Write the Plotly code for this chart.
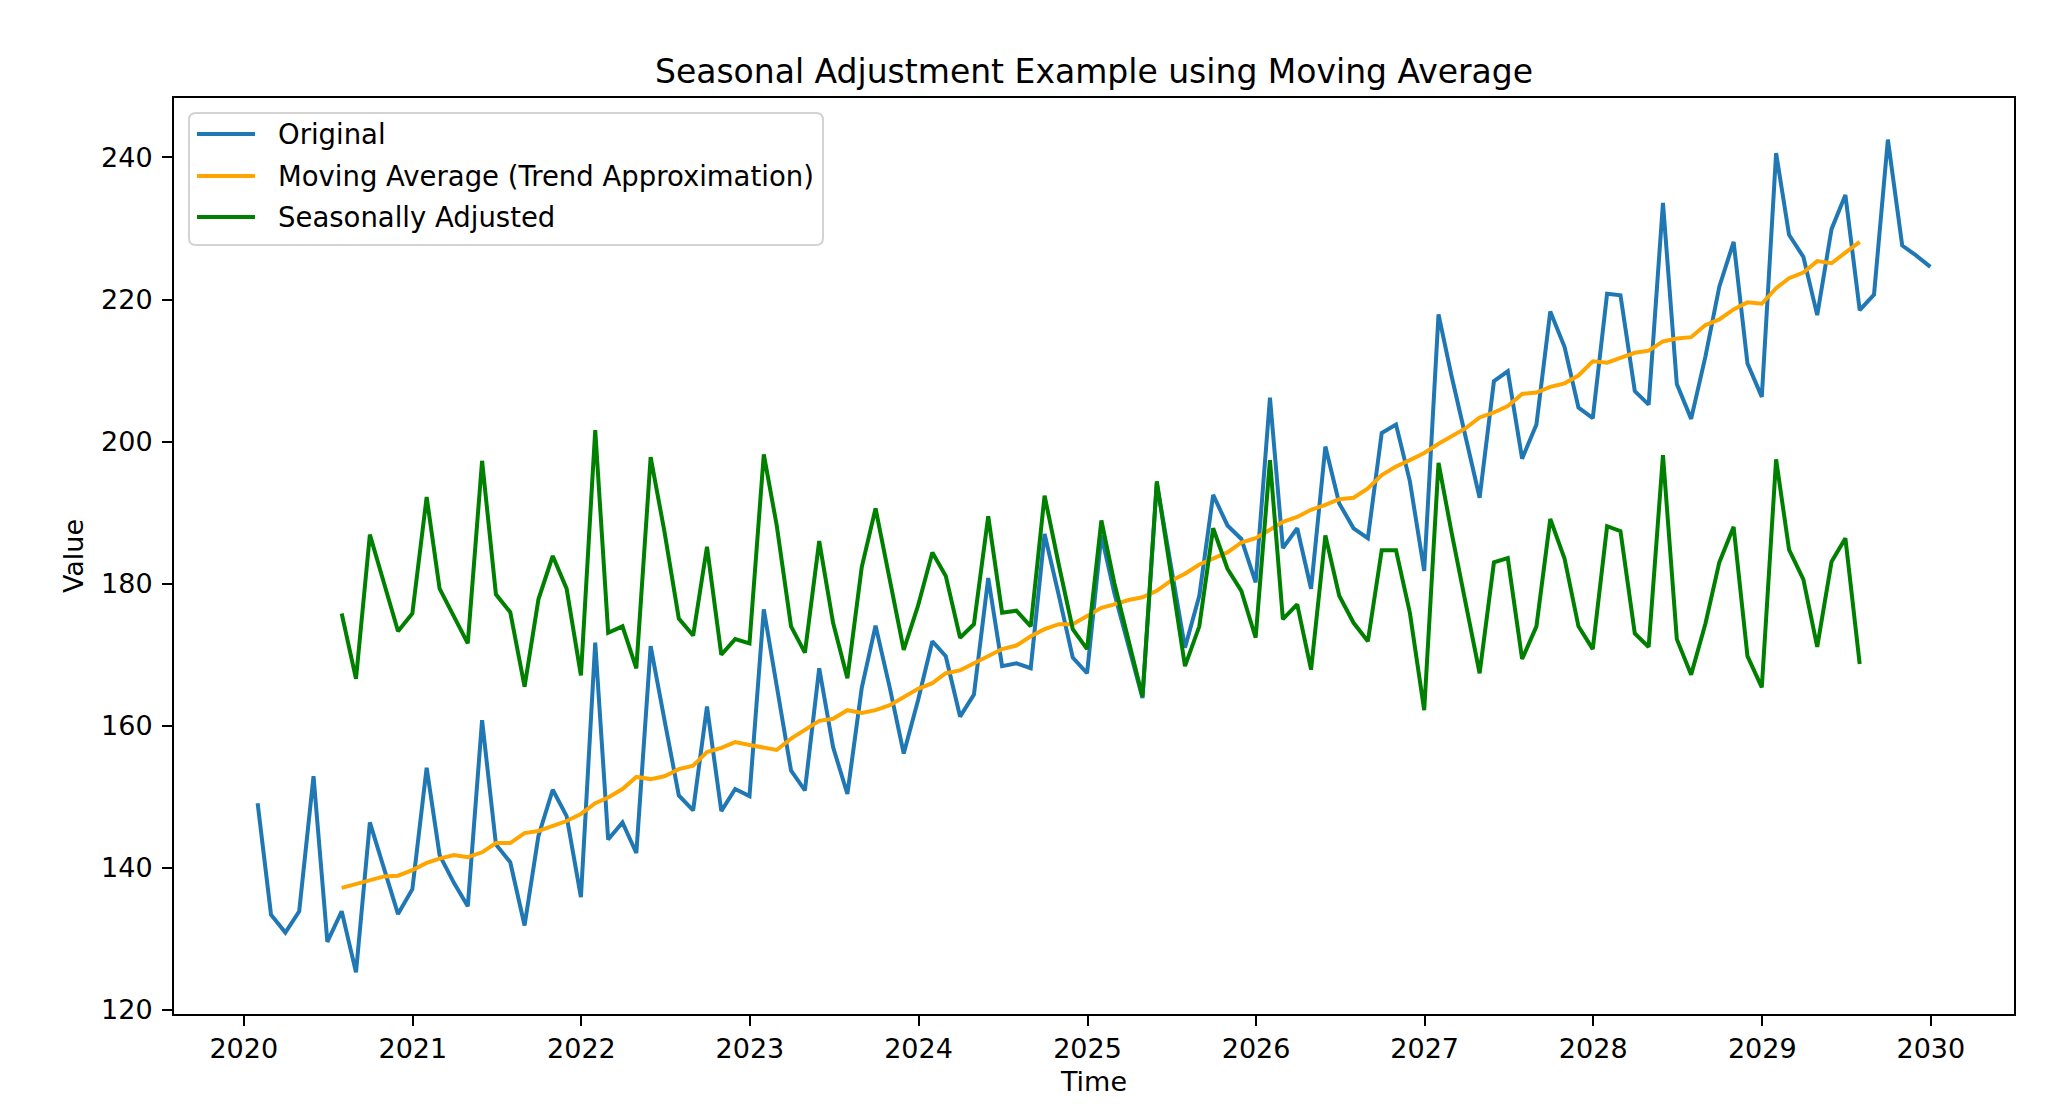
import pandas as pd
import plotly.graph_objects as go

# ---- data ----
start_date = "2020-01-31"          # first month-end of the series
n_months = 120
ma_offset = 6                      # first month that has a centred 12-month average

original = [
    149.1, 133.4, 130.9, 133.9, 152.9, 129.6, 133.9, 125.3, 146.4, 140.0, 133.5, 137.0,   # 2020
    154.1, 141.8, 137.9, 134.6, 160.8, 143.3, 140.8, 131.9, 144.5, 151.0, 147.3, 135.9,   # 2021
    171.7, 144.0, 146.4, 142.1, 171.2, 160.8, 150.2, 148.1, 162.7, 148.0, 151.1, 150.1,   # 2022
    176.4, 165.6, 153.7, 150.9, 168.1, 157.0, 150.4, 165.3, 174.1, 165.3, 156.1, 163.6,   # 2023
    171.9, 169.8, 161.3, 164.4, 180.8, 168.4, 168.8, 168.1, 187.0, 178.3, 169.6, 167.4,   # 2024
    186.8, 178.7, 171.1, 163.9, 194.1, 182.6, 171.0, 178.3, 192.5, 188.2, 186.3, 180.2,   # 2025
    206.2, 185.0, 187.8, 179.3, 199.3, 191.3, 187.8, 186.4, 201.2, 202.4, 194.4, 181.8,   # 2026
    217.9, 209.3, 200.8, 192.1, 208.5, 209.9, 197.6, 202.4, 218.3, 213.3, 204.8, 203.3,   # 2027
    220.8, 220.6, 207.1, 205.2, 233.6, 208.1, 203.2, 212.0, 221.8, 228.1, 211.0, 206.3,   # 2028
    240.6, 229.1, 226.0, 217.8, 229.9, 234.7, 218.5, 220.7, 242.5, 227.6, 226.2, 224.6,   # 2029
]

moving_average = [
    137.2, 137.7, 138.3, 138.8, 138.9, 139.7,                                             # 2020 Jul-Dec
    140.7, 141.3, 141.8, 141.5, 142.2, 143.5, 143.5, 144.9, 145.2, 145.9, 146.6, 147.6,   # 2021
    149.1, 149.9, 151.1, 152.8, 152.5, 152.9, 153.9, 154.4, 156.3, 156.9, 157.7, 157.3,   # 2022
    156.9, 156.6, 158.2, 159.4, 160.7, 161.0, 162.2, 161.8, 162.2, 162.9, 164.1, 165.2,   # 2023
    166.0, 167.4, 167.8, 168.8, 169.9, 170.8, 171.3, 172.6, 173.6, 174.3, 174.3, 175.4,   # 2024
    176.6, 177.1, 177.7, 178.1, 179.0, 180.4, 181.4, 182.7, 183.5, 184.4, 185.8, 186.4,   # 2025
    187.6, 188.7, 189.4, 190.4, 191.1, 191.9, 192.1, 193.4, 195.3, 196.5, 197.4, 198.4,   # 2026
    199.7, 200.8, 201.9, 203.4, 204.1, 205.0, 206.7, 206.9, 207.7, 208.2, 209.3, 211.3,   # 2027
    211.1, 211.8, 212.5, 212.8, 214.1, 214.5, 214.7, 216.4, 217.2, 218.6, 219.6, 219.4,   # 2028
    221.6, 223.0, 223.8, 225.4, 225.1, 226.6, 228.1,                                      # 2029 Jan-Jul
]

seasonally_adjusted = [
    175.8, 166.6, 186.9, 180.2, 173.3, 175.8,                                             # 2020 Jul-Dec
    192.2, 179.3, 175.4, 171.6, 197.3, 178.5, 176.0, 165.5, 177.8, 183.9, 179.3, 167.1,   # 2021
    201.6, 173.1, 174.0, 168.1, 197.8, 187.3, 175.1, 172.7, 185.2, 170.0, 172.2, 171.6,   # 2022
    198.2, 188.2, 174.0, 170.3, 186.0, 174.5, 166.7, 182.3, 190.6, 180.7, 170.7, 176.9,   # 2023
    184.4, 181.1, 172.4, 174.3, 189.5, 175.9, 176.2, 174.0, 192.4, 182.6, 173.6, 170.8,   # 2024
    188.9, 180.1, 171.9, 164.1, 194.4, 181.4, 168.4, 174.0, 187.8, 182.1, 179.0, 172.4,   # 2025
    197.4, 175.0, 177.1, 167.9, 186.8, 178.3, 174.5, 171.9, 184.7, 184.7, 175.9, 162.2,   # 2026
    197.0, 187.3, 177.5, 167.4, 183.0, 183.6, 169.4, 174.0, 189.1, 183.5, 174.0, 170.8,   # 2027
    188.1, 187.4, 173.0, 171.1, 198.1, 172.2, 167.2, 174.4, 183.0, 188.0, 169.8, 165.4,   # 2028
    197.5, 184.8, 180.6, 171.1, 183.1, 186.4, 168.7,                                      # 2029 Jan-Jul
]

x_tick_labels = ["2020", "2021", "2022", "2023", "2024", "2025",
                 "2026", "2027", "2028", "2029", "2030"]
y_tick_values = [120, 140, 160, 180, 200, 220, 240]

series_names = ["Original", "Moving Average (Trend Approximation)", "Seasonally Adjusted"]
series_colors = ["#1f77b4", "#FFA500", "#008000"]

# ---- derived x values ----
first = pd.Timestamp(start_date)
dates = [first + pd.offsets.MonthEnd(i) for i in range(n_months)]
ma_dates = dates[ma_offset:ma_offset + len(moving_average)]
x_tick_vals = [pd.Timestamp(f"{y}-01-01") for y in x_tick_labels]

# axis limits like matplotlib's 5% auto margins
span = dates[-1] - dates[0]
x_range = [dates[0] - span * 0.05, dates[-1] + span * 0.05]
all_y = original + moving_average + seasonally_adjusted
y_span = max(all_y) - min(all_y)
y_range = [min(all_y) - 0.05 * y_span, max(all_y) + 0.05 * y_span]

FONT = "DejaVu Sans"
LINE_W = 4

fig = go.Figure()
for name, xs, ys, col in zip(series_names,
                             [dates, ma_dates, ma_dates],
                             [original, moving_average, seasonally_adjusted],
                             series_colors):
    fig.add_trace(go.Scatter(x=xs, y=ys, mode="lines", name=name, showlegend=False,
                             line=dict(color=col, width=LINE_W)))

W, H = 2072, 1116
ml, mr, mt, mb = 166, 66, 90, 110
PW, PH = W - ml - mr, H - mt - mb


def px(xp):  # pixel -> paper x
    return (xp - ml) / PW


def py(yp):  # pixel -> paper y
    return 1 - (yp - mt) / PH


# ---- legend box drawn like matplotlib's (rounded frame, long line samples) ----
bx0, by0, bx1, by1 = ml + 15, mt + 15, ml + 15 + 634, mt + 15 + 132
r = 7
rx, ry = r / PW, r / PH
X0, X1, Y0, Y1 = px(bx0), px(bx1), py(by1), py(by0)
box_path = (f"M {X0 + rx},{Y0} L {X1 - rx},{Y0} Q {X1},{Y0} {X1},{Y0 + ry} "
            f"L {X1},{Y1 - ry} Q {X1},{Y1} {X1 - rx},{Y1} "
            f"L {X0 + rx},{Y1} Q {X0},{Y1} {X0},{Y1 - ry} "
            f"L {X0},{Y0 + ry} Q {X0},{Y0} {X0 + rx},{Y0} Z")
shapes = [dict(type="path", path=box_path, xref="paper", yref="paper",
               fillcolor="rgba(255,255,255,0.8)", line=dict(color="#d3d3d3", width=2),
               layer="above")]
annotations = []
entry_y = [by0 + 21, by0 + 63, by0 + 104]
for name, col, ey in zip(series_names, series_colors, entry_y):
    shapes.append(dict(type="line", xref="paper", yref="paper",
                       x0=px(bx0 + 8), x1=px(bx0 + 66), y0=py(ey), y1=py(ey),
                       line=dict(color=col, width=LINE_W), layer="above"))
    annotations.append(dict(text=name, xref="paper", yref="paper",
                            x=px(bx0 + 87), y=py(ey), xanchor="left", yanchor="middle",
                            showarrow=False,
                            font=dict(family=FONT, size=27.5, color="black")))

fig.update_layout(
    width=W, height=H,
    margin=dict(l=ml, r=mr, t=mt, b=mb, autoexpand=False),
    paper_bgcolor="white", plot_bgcolor="white",
    font=dict(family=FONT, size=27, color="black"),
    title=dict(text="Seasonal Adjustment Example using Moving Average",
               x=0.5, xref="paper", xanchor="center",
               y=1 - 63 / H, yref="container", yanchor="middle",
               font=dict(family=FONT, size=33, color="black")),
    showlegend=False,
    shapes=shapes,
    annotations=annotations,
    xaxis=dict(range=x_range, tickmode="array", tickvals=x_tick_vals, ticktext=x_tick_labels,
               showgrid=False, zeroline=False,
               showline=True, mirror=True, linecolor="black", linewidth=2,
               ticks="outside", ticklen=10, tickwidth=2, tickcolor="black",
               tickfont=dict(family=FONT, size=27, color="black"),
               ticklabelstandoff=0,
               title=dict(text="Time", font=dict(family=FONT, size=27, color="black"),
                          standoff=9)),
    yaxis=dict(range=y_range, tickmode="array", tickvals=y_tick_values,
               ticktext=[str(v) for v in y_tick_values],
               showgrid=False, zeroline=False,
               showline=True, mirror=True, linecolor="black", linewidth=2,
               ticks="outside", ticklen=10, tickwidth=2, tickcolor="black",
               tickfont=dict(family=FONT, size=27, color="black"),
               ticklabelstandoff=4,
               title=dict(text="Value", font=dict(family=FONT, size=27, color="black"),
                          standoff=10)),
)

fig.write_html("out.html")
